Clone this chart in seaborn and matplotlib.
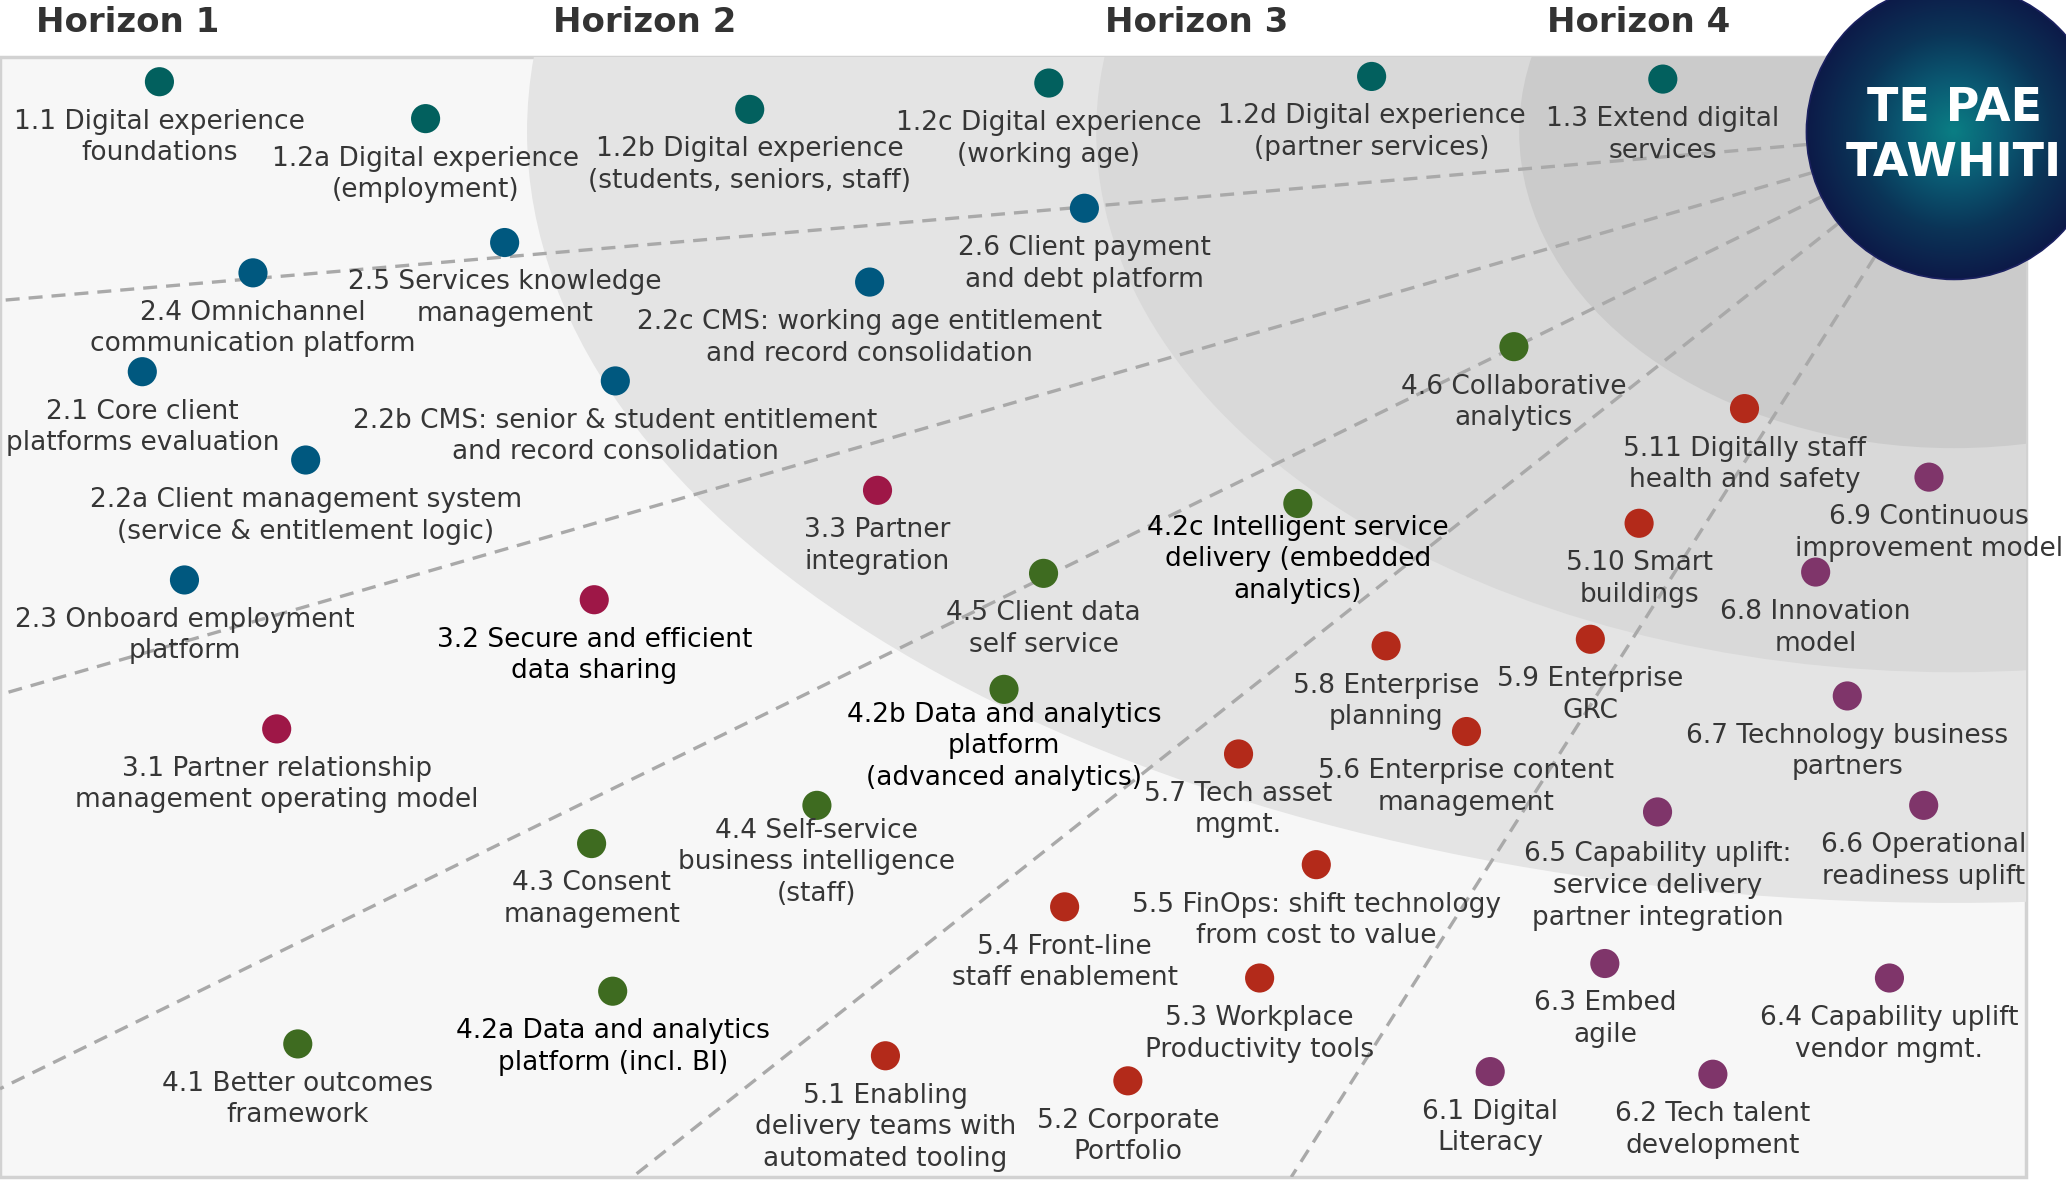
import numpy as np
import pandas as pd
import matplotlib
matplotlib.use("Agg")
import matplotlib.pyplot as plt
import seaborn as sns
from matplotlib.patches import Ellipse, Rectangle, Circle
from matplotlib.colors import LinearSegmentedColormap

# ---- data (positions, 1568 x 896 frame) ----
horizons = ["Horizon 1", "Horizon 2", "Horizon 3", "Horizon 4"]
horizon_x = [97, 489, 908, 1244]

item_labels = [
    "1.1 Digital experience\nfoundations",
    "1.2a Digital experience\n(employment)",
    "1.2b Digital experience\n(students, seniors, staff)",
    "1.2c Digital experience\n(working age)",
    "1.2d Digital experience\n(partner services)",
    "1.3 Extend digital\nservices",
    "2.6 Client payment\nand debt platform",
    "2.5 Services knowledge\nmanagement",
    "2.4 Omnichannel\ncommunication platform",
    "2.2c CMS: working age entitlement\nand record consolidation",
    "2.1 Core client\nplatforms evaluation",
    "2.2b CMS: senior & student entitlement\nand record consolidation",
    "2.2a Client management system\n(service & entitlement logic)",
    "2.3 Onboard employment\nplatform",
    "3.3 Partner\nintegration",
    "3.2 Secure and efficient\ndata sharing",
    "3.1 Partner relationship\nmanagement operating model",
    "4.6 Collaborative\nanalytics",
    "4.2c Intelligent service\ndelivery (embedded\nanalytics)",
    "4.5 Client data\nself service",
    "4.2b Data and analytics\nplatform\n(advanced analytics)",
    "4.4 Self-service\nbusiness intelligence\n(staff)",
    "4.3 Consent\nmanagement",
    "4.2a Data and analytics\nplatform (incl. BI)",
    "4.1 Better outcomes\nframework",
    "5.11 Digitally staff\nhealth and safety",
    "5.10 Smart\nbuildings",
    "5.9 Enterprise\nGRC",
    "5.8 Enterprise\nplanning",
    "5.6 Enterprise content\nmanagement",
    "5.7 Tech asset\nmgmt.",
    "5.5 FinOps: shift technology\nfrom cost to value",
    "5.4 Front-line\nstaff enablement",
    "5.3 Workplace\nProductivity tools",
    "5.1 Enabling\ndelivery teams with\nautomated tooling",
    "5.2 Corporate\nPortfolio",
    "6.9 Continuous\nimprovement model",
    "6.8 Innovation\nmodel",
    "6.7 Technology business\npartners",
    "6.6 Operational\nreadiness uplift",
    "6.5 Capability uplift:\nservice delivery\npartner integration",
    "6.3 Embed\nagile",
    "6.4 Capability uplift\nvendor mgmt.",
    "6.1 Digital\nLiteracy",
    "6.2 Tech talent\ndevelopment",
]
item_x = [121, 323, 569, 796, 1041, 1262,
          823, 383, 192, 660, 108, 467, 232, 140,
          666, 451, 210,
          1149, 985, 792, 762, 620, 449, 465, 226,
          1324, 1244, 1207, 1052, 1113, 940, 999, 808, 956, 672, 856,
          1464, 1378, 1402, 1460, 1258, 1218, 1434, 1131, 1300]
item_y = [62, 90, 83, 63, 58, 60,
          158, 184, 207, 214, 282, 289, 349, 440,
          372, 455, 553,
          263, 382, 435, 523, 611, 640, 752, 792,
          310, 397, 485, 490, 555, 572, 656, 688, 742, 801, 820,
          362, 434, 528, 611, 616, 731, 742, 813, 815]
item_group = [lab.split(".")[0] for lab in item_labels]

group_colors = {"1": "#02605e", "2": "#00587f", "3": "#9e1747",
                "4": "#3e6b20", "5": "#b32a1a", "6": "#7f356a"}
dark_labels = {"3.2", "4.2a", "4.2b", "4.2c"}
label_drop = {"4.2c": 16, "4.2b": 17, "4.4": 17, "6.5": 30}

df = pd.DataFrame({"label": item_labels, "x": item_x, "y": item_y, "group": item_group})

sns.set_theme(style="white")
plt.rcParams["font.family"] = ["DejaVu Sans"]

fig = plt.figure(figsize=(20.66, 11.81), dpi=100)
ax = fig.add_axes([0, 0, 1, 1])

# panel and horizon rings
panel = Rectangle((0, 43), 1538, 850, facecolor="#f7f7f7", edgecolor="#d2d2d2", lw=2.5, zorder=0)
ax.add_patch(panel)
cx, cy = 1483, 100
rings = [(1083, 585, "#e4e4e4"), (651, 410, "#d9d9d9"), (330, 240, "#cbcbcb")]
for a, b, col in rings:
    e = Ellipse((cx, cy), 2 * a, 2 * b, facecolor=col, edgecolor="none", zorder=0.5)
    ax.add_patch(e)
    e.set_clip_path(panel)

# dashed spokes from the centre circle
spoke_ends = [(0, 228), (0, 527), (0, 826), (480, 893), (980, 893)]
r_circ = 112
for x0, y0 in spoke_ends:
    d = np.hypot(x0 - cx, y0 - cy)
    xs = cx + (x0 - cx) * r_circ / d
    ys = cy + (y0 - cy) * r_circ / d
    ln, = ax.plot([xs, x0], [ys, y0], color="#a9a9a9", lw=2.4,
                  linestyle=(0, (4.2, 2.7)), zorder=1)
    ln.set_clip_path(panel)

# dots
sns.scatterplot(data=df, x="x", y="y", hue="group", palette=group_colors,
                s=440, edgecolor="none", legend=False, ax=ax, zorder=3)

# labels
for lab, x, y in zip(item_labels, item_x, item_y):
    key = lab.split(" ")[0]
    top = y + label_drop.get(key, 28)
    col = "#000000" if key in dark_labels else "#363636"
    for i, line in enumerate(lab.split("\n")):
        ax.text(x, top + 24 * i, line, ha="center", va="center_baseline",
                fontsize=19, color=col, zorder=4)

# horizon headers
for name, hx in zip(horizons, horizon_x):
    ax.text(hx, 17, name, ha="center", va="center", fontsize=24.5,
            fontweight="bold", color="#333333", zorder=4)

# centre circle with radial gradient
n = 400
gx, gy = np.meshgrid(np.linspace(-1, 1, n), np.linspace(-1, 1, n))
dist = np.clip(np.hypot(gx, gy), 0, 1)
cmap = LinearSegmentedColormap.from_list("tp", ["#0a7e84", "#0a5a73", "#0b3457", "#0d1a48"])
im = ax.imshow(dist, cmap=cmap, vmin=0, vmax=1,
               extent=[cx - r_circ, cx + r_circ, cy + r_circ, cy - r_circ],
               zorder=5, interpolation="bilinear")
im.set_clip_path(Circle((cx, cy), r_circ, transform=ax.transData))
circ = Circle((cx, cy), r_circ, facecolor="none", edgecolor="#1b2160", lw=1.2, zorder=6)
ax.add_patch(circ)
ax.text(cx, 82, "TE PAE", ha="center", va="center", fontsize=33,
        fontweight="bold", color="white", zorder=7)
ax.text(cx, 124, "TAWHITI", ha="center", va="center", fontsize=33,
        fontweight="bold", color="white", zorder=7)

ax.set_xlim(0, 1568)
ax.set_ylim(896, 0)
ax.set_aspect("auto")
ax.axis("off")

fig.savefig("out.png", dpi=100, facecolor="white")
